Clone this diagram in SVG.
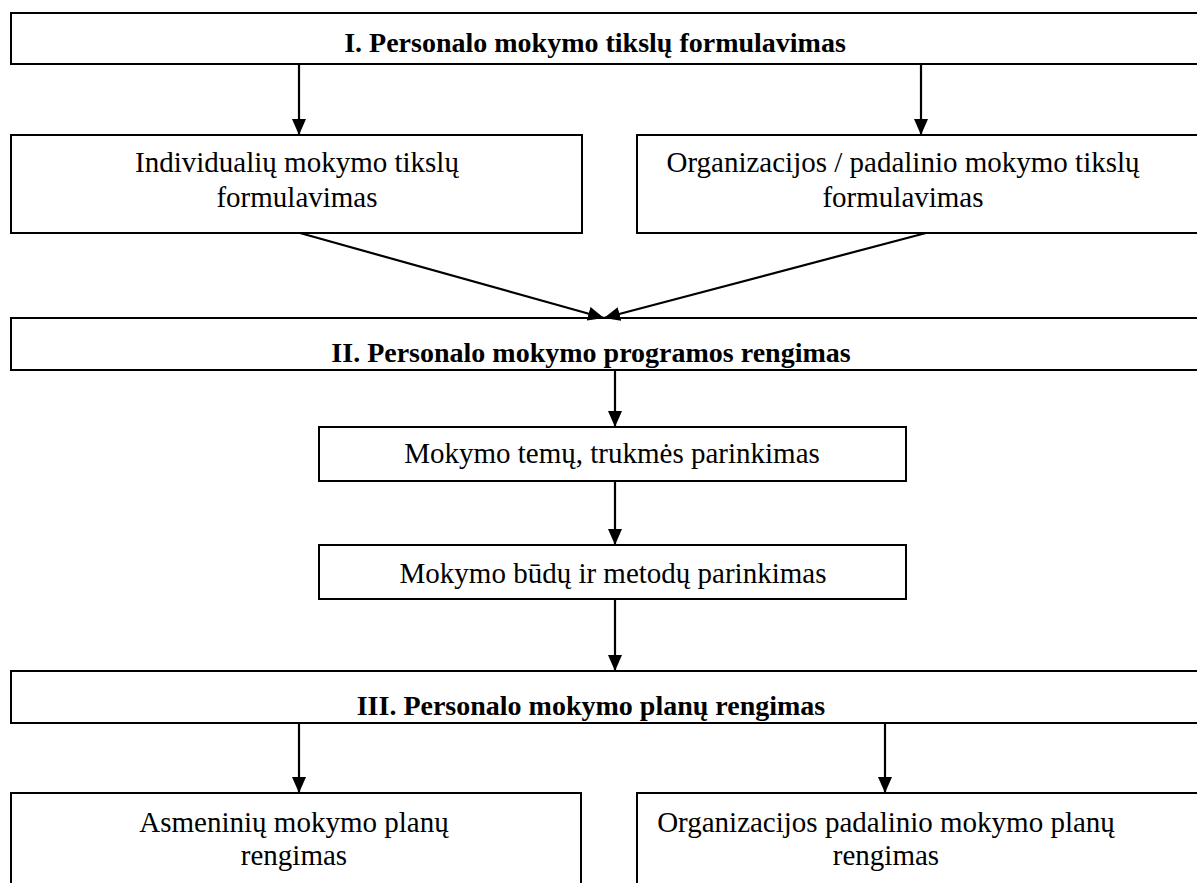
<svg xmlns="http://www.w3.org/2000/svg" width="1197" height="883" viewBox="0 0 1197 883">
<style>
.box{fill:#fff;stroke:#000;stroke-width:2}
.t{font-family:"Liberation Serif","Times New Roman",serif;font-size:29px;fill:#000;text-anchor:middle}
.h{font-family:"Liberation Serif","Times New Roman",serif;font-size:28px;font-weight:bold;fill:#000;text-anchor:middle}
.c{stroke:#000;stroke-width:2.2;fill:none;marker-end:url(#ah)}
</style>
<defs>
<marker id="ah" viewBox="0 0 16 14" refX="16" refY="7" markerWidth="16" markerHeight="14" markerUnits="userSpaceOnUse" orient="auto">
<path d="M0,0 L16,7 L0,14 Z" fill="#000"/>
</marker>
</defs>
<rect width="1197" height="883" fill="#fff"/>
<g id="n1"><rect class="box" x="11" y="13" width="1200" height="51"/><text class="h" x="595" y="52">I. Personalo mokymo tikslų formulavimas</text></g>
<g id="n2"><rect class="box" x="11" y="135" width="571" height="98"/><text class="t" x="297" y="172">Individualių mokymo tikslų</text><text class="t" x="297" y="207">formulavimas</text></g>
<g id="n3"><rect class="box" x="637" y="135" width="600" height="98"/><text class="t" x="903" y="172">Organizacijos / padalinio mokymo tikslų</text><text class="t" x="903" y="207">formulavimas</text></g>
<g id="n4"><rect class="box" x="11" y="318" width="1200" height="52"/><text class="h" x="591" y="362">II. Personalo mokymo programos rengimas</text></g>
<g id="n5"><rect class="box" x="319" y="427" width="587" height="54"/><text class="t" x="612" y="463">Mokymo temų, trukmės parinkimas</text></g>
<g id="n6"><rect class="box" x="319" y="545" width="587" height="54"/><text class="t" x="613" y="583">Mokymo būdų ir metodų parinkimas</text></g>
<g id="n7"><rect class="box" x="11" y="671" width="1200" height="52"/><text class="h" x="591" y="715">III. Personalo mokymo planų rengimas</text></g>
<g id="n8"><rect class="box" x="11" y="793" width="570" height="120"/><text class="t" x="294" y="832">Asmeninių mokymo planų</text><text class="t" x="294" y="865">rengimas</text></g>
<g id="n9"><rect class="box" x="637" y="793" width="600" height="120"/><text class="t" x="886" y="832">Organizacijos padalinio mokymo planų</text><text class="t" x="886" y="865">rengimas</text></g>
<g id="connectors">
<line class="c" x1="299" y1="64" x2="299" y2="135"/>
<line class="c" x1="921" y1="64" x2="921" y2="135"/>
<line class="c" x1="300" y1="233" x2="604" y2="318"/>
<line class="c" x1="926" y1="233" x2="604" y2="318"/>
<line class="c" x1="615" y1="370" x2="615" y2="427"/>
<line class="c" x1="615" y1="481" x2="615" y2="545"/>
<line class="c" x1="615" y1="599" x2="615" y2="671"/>
<line class="c" x1="299" y1="723" x2="299" y2="793"/>
<line class="c" x1="885" y1="723" x2="885" y2="793"/>
</g>
</svg>
